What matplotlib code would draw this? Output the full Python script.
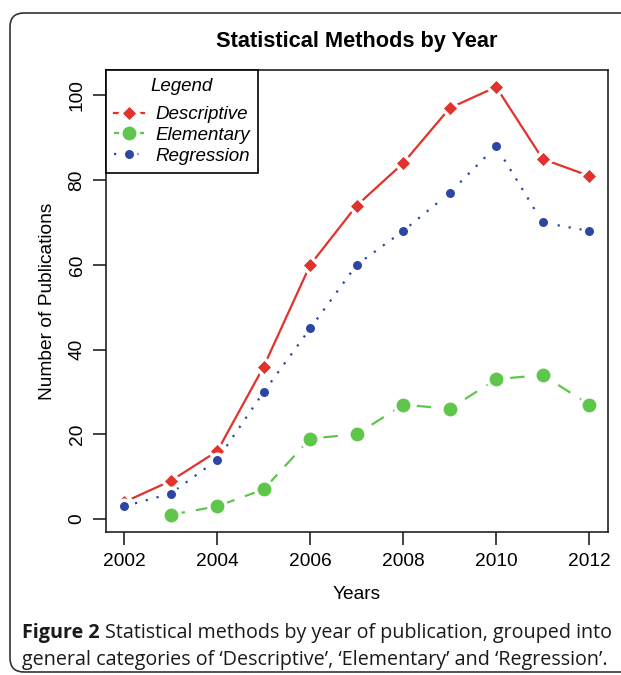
import numpy as np
import matplotlib.pyplot as plt
from matplotlib.patches import FancyBboxPatch
from matplotlib.transforms import IdentityTransform

# -------------------------
# Data
# -------------------------
years = [2002, 2003, 2004, 2005, 2006, 2007, 2008, 2009, 2010, 2011, 2012]
descriptive = [4, 9, 16, 36, 60, 74, 84, 97, 102, 85, 81]
elementary = [np.nan, 1, 3, 7, 19, 20, 27, 26, 33, 34, 27]
regression = [3, 6, 14, 30, 45, 60, 68, 77, 88, 70, 68]

series_names = ["Descriptive", "Elementary", "Regression"]
xticks = [2002, 2004, 2006, 2008, 2010, 2012]
yticks = [0, 20, 40, 60, 80, 100]

red = "#e1322b"
green = "#5fc64c"
blue = "#2d46a3"

plt.rcParams['font.family'] = ['Liberation Sans', 'DejaVu Sans']

W, H = 621, 675
fig = plt.figure(figsize=(W / 100, H / 100), dpi=100)

# rounded outer frame (pixel coords, origin bottom-left)
frame = FancyBboxPatch((10, H - 672), 640, 659,
                       boxstyle="round,pad=0,rounding_size=14",
                       transform=IdentityTransform(), fill=False,
                       edgecolor="#333333", linewidth=1.2)
fig.patches.append(frame)

ax = fig.add_axes([105.7 / W, 1 - 531.7 / H, 502 / W, 461.7 / H])

# white marker edge fakes R's type="b" gaps around points
halo = dict(markeredgecolor="white", markeredgewidth=2.5)
ax.plot(years, descriptive, color=red, lw=1.6, ls="-", marker="D",
        ms=9, markerfacecolor=red, label=series_names[0], **halo)
ax.plot(years, elementary, color=green, lw=1.6, ls=(0, (6.5, 5)), marker="o",
        ms=12.5, markerfacecolor=green, label=series_names[1], **halo)
ax.plot(years, regression, color=blue, lw=1.6, ls=(0, (1, 4)), marker="o",
        ms=9, markerfacecolor=blue, label=series_names[2], **halo)

ax.set_xlim(2001.6, 2012.4)
ax.set_ylim(-3, 106)
ax.set_xticks(xticks)
ax.set_yticks(yticks)

for s in ax.spines.values():
    s.set_linewidth(1.2)
    s.set_color("#222222")

ax.tick_params(axis="both", direction="out", length=9.5, width=1.2,
               labelsize=13.8, color="#222222")
ax.tick_params(axis="x", pad=6)
ax.tick_params(axis="y", pad=5)
for lab in ax.get_yticklabels():
    lab.set_rotation(90)
    lab.set_va("center")

ax.set_xlabel("Years", fontsize=13.8)
ax.xaxis.set_label_coords(0.5, -0.118)
ax.set_ylabel("Number of Publications", fontsize=13.8)
ax.yaxis.set_label_coords(-0.099, 0.5)

fig.text(356.7 / W, 1 - 42 / H, "Statistical Methods by Year",
         ha="center", va="center", fontsize=15.7, fontweight="bold")

leg = ax.legend(loc="upper left", borderaxespad=0, frameon=True,
                fancybox=False, edgecolor="black", title="Legend",
                prop={"style": "italic", "size": 13.5},
                title_fontproperties={"style": "italic", "size": 13.5},
                handlelength=1.6, handletextpad=0.65, labelspacing=0.2,
                borderpad=0.42)
leg._legend_box.sep = 8
leg.get_frame().set_linewidth(1.2)
leg.get_frame().set_alpha(1)

# caption
cap_font = ['Open Sans', 'DejaVu Sans']
cap_size = 14.2
t1 = fig.text(22 / W, 1 - 638 / H, "Figure 2", ha="left", va="baseline",
              fontsize=cap_size, fontweight="bold", family=cap_font,
              color="#1a1a1a")
fig.canvas.draw()
ax.annotate("Statistical methods by year of publication, grouped into",
            xy=(1, 0), xycoords=t1, xytext=(4, 0), textcoords="offset points",
            ha="left", va="bottom", fontsize=cap_size, family=cap_font,
            color="#1a1a1a", annotation_clip=False)
fig.text(22 / W, 1 - 665 / H,
         "general categories of \u2018Descriptive\u2019, \u2018Elementary\u2019 and \u2018Regression\u2019.",
         ha="left", va="baseline", fontsize=cap_size, family=cap_font,
         color="#1a1a1a")

fig.savefig("out.png", dpi=100)
